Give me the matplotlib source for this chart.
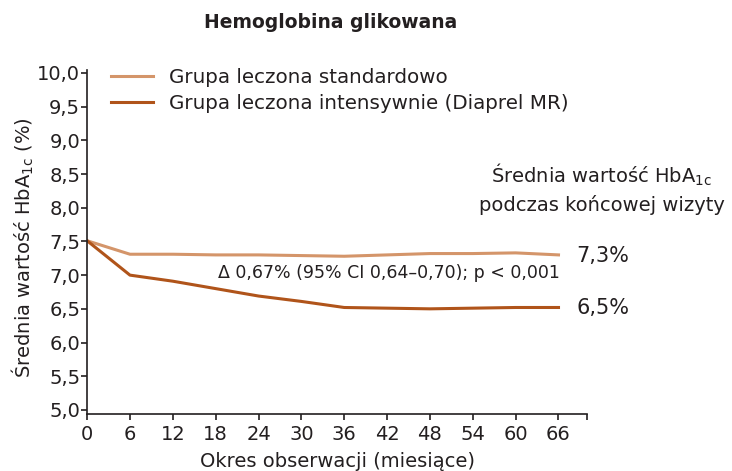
import matplotlib
matplotlib.use("Agg")
import matplotlib.pyplot as plt

plt.rcParams['font.family'] = ['DejaVu Sans']
plt.rcParams['mathtext.default'] = 'regular'

months = [0, 6, 12, 18, 24, 30, 36, 42, 48, 54, 60, 66]
standard = [7.51, 7.31, 7.31, 7.30, 7.30, 7.29, 7.28, 7.30, 7.32, 7.32, 7.33, 7.30]
intensive = [7.51, 7.00, 6.91, 6.80, 6.69, 6.61, 6.52, 6.51, 6.50, 6.51, 6.52, 6.52]
yticks = [5.0, 5.5, 6.0, 6.5, 7.0, 7.5, 8.0, 8.5, 9.0, 9.5, 10.0]
ylabels = ["5,0", "5,5", "6,0", "6,5", "7,0", "7,5", "8,0", "8,5", "9,0", "9,5", "10,0"]
end_labels = ["7,3%", "6,5%"]

txt = '#231f20'
c_std = '#d4956a'
c_int = '#b0541a'

fig = plt.figure(figsize=(7.32, 4.71), dpi=100)
ax = fig.add_axes([0.119, 0.121, 0.683, 0.730])

ax.plot(months, standard, color=c_std, lw=2.2, label="Grupa leczona standardowo")
ax.plot(months, intensive, color=c_int, lw=2.2, label="Grupa leczona intensywnie (Diaprel MR)")

ax.set_xlim(0, 70)
ax.set_ylim(4.94, 10.04)
ax.set_xticks(months + [70])
ax.set_xticklabels([str(m) for m in months] + [""])
ax.set_yticks(yticks)
ax.set_yticklabels(ylabels)
ax.tick_params(labelsize=14, colors=txt, length=4, width=1.2, pad=1)
ax.tick_params(axis='x', pad=4)
for s in ['top', 'right']:
    ax.spines[s].set_visible(False)
for s in ['left', 'bottom']:
    ax.spines[s].set_linewidth(1.2)
    ax.spines[s].set_color(txt)

ax.set_xlabel("Okres obserwacji (miesiące)", fontsize=14, color=txt, labelpad=6)
ax.set_ylabel("Średnia wartość HbA$_{1c}$ (%)", fontsize=14, color=txt)
ax.yaxis.set_label_coords(-0.103, 0.483)
fig.text(0.452, 0.953, "Hemoglobina glikowana", fontsize=13.5, fontweight='bold',
         color=txt, ha='center', va='center')

leg = ax.legend(loc='upper left', bbox_to_anchor=(0.013, 1.059), frameon=False,
                fontsize=14.3, handlelength=2.1, handletextpad=0.8, labelspacing=0.35)
for t in leg.get_texts():
    t.set_color(txt)

ax.text(66.2, 7.03, "Δ 0,67% (95% CI 0,64–0,70); p < 0,001", fontsize=12.5,
        color=txt, ha='right', va='center')
ax.text(68.5, standard[-1] - 0.02, end_labels[0], fontsize=15, color=txt, va='center')
ax.text(68.5, intensive[-1] - 0.01, end_labels[1], fontsize=15, color=txt, va='center')
fig.text(0.822, 0.628, "Średnia wartość HbA$_{1c}$", fontsize=14, color=txt,
         ha='center', va='center')
fig.text(0.822, 0.565, "podczas końcowej wizyty", fontsize=14, color=txt,
         ha='center', va='center')

fig.savefig("out.png", dpi=100)
